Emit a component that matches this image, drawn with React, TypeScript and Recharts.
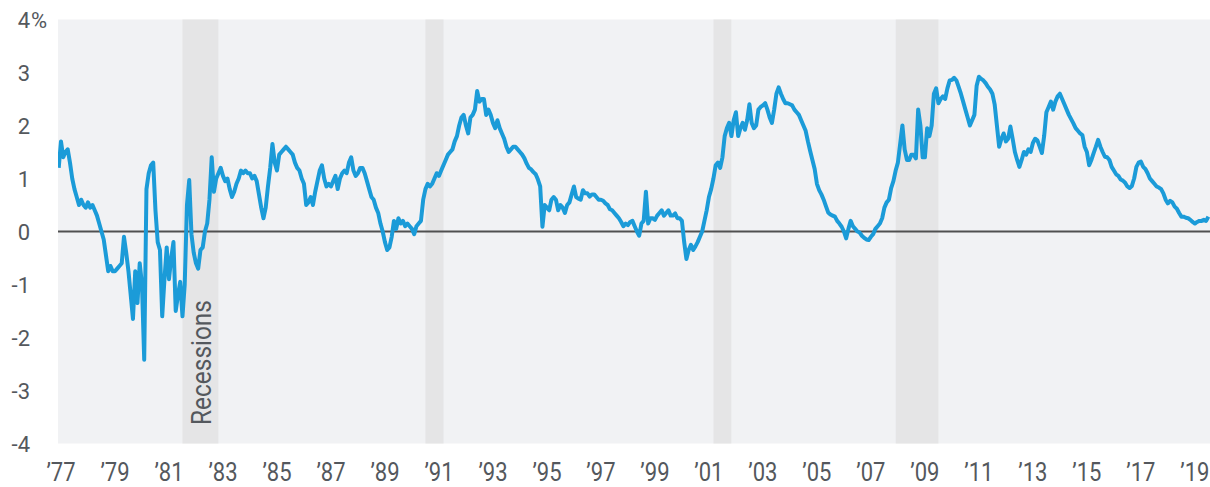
import React from 'react'
import { LineChart, Line, XAxis, YAxis, ReferenceArea, ReferenceLine } from 'recharts'

// monthly yield-curve spread (%)
// Dec 1976 – Dec 1979
const spread1970s = [
  1.2,
  1.7, 1.4, 1.5, 1.55, 1.3, 1.0, 0.8, 0.65, 0.5, 0.6, 0.5, 0.45,
  0.55, 0.45, 0.5, 0.4, 0.3, 0.15, 0.0, -0.15, -0.45, -0.75, -0.65, -0.75,
  -0.75, -0.7, -0.65, -0.6, -0.1, -0.4, -0.75, -1.2, -1.65, -0.75, -1.35, -0.6
]

// Jan 1980 – Dec 1989
const spread1980s = [
  -1.0, -2.42, 0.8, 1.1, 1.25, 1.3, 0.4, -0.2, -0.35, -1.6, -0.9, -0.3,
  -0.9, -0.5, -0.2, -1.5, -1.2, -0.95, -1.6, -1.0, 0.5, 0.97, -0.05, -0.4,
  -0.6, -0.7, -0.35, -0.3, 0.0, 0.15, 0.6, 1.4, 0.75, 1.0, 1.1, 1.2,
  1.05, 0.95, 1.0, 0.8, 0.65, 0.75, 0.9, 1.0, 1.15, 1.1, 1.15, 1.1,
  1.1, 1.0, 1.05, 0.95, 0.7, 0.45, 0.25, 0.45, 0.85, 1.2, 1.65, 1.3,
  1.15, 1.45, 1.5, 1.55, 1.6, 1.55, 1.5, 1.45, 1.3, 1.2, 1.15, 1.0,
  0.9, 0.5, 0.55, 0.65, 0.5, 0.75, 0.95, 1.15, 1.25, 1.0, 0.85, 0.9,
  0.85, 0.95, 1.05, 0.8, 1.0, 1.1, 1.15, 1.1, 1.3, 1.4, 1.15, 1.05,
  1.1, 1.2, 1.2, 1.1, 0.95, 0.8, 0.65, 0.6, 0.45, 0.35, 0.15, 0.0,
  -0.2, -0.35, -0.3, -0.1, 0.2, 0.05, 0.25, 0.15, 0.2, 0.1, 0.15, 0.1
]

// Jan 1990 – Dec 1999
const spread1990s = [
  0.05, -0.05, 0.1, 0.15, 0.2, 0.6, 0.8, 0.9, 0.85, 0.9, 1.0, 1.1,
  1.05, 1.15, 1.25, 1.35, 1.45, 1.5, 1.55, 1.7, 1.8, 2.0, 2.15, 2.2,
  2.0, 1.85, 2.15, 2.2, 2.3, 2.65, 2.45, 2.5, 2.5, 2.2, 2.3, 2.2,
  2.05, 1.95, 2.1, 1.95, 1.85, 1.75, 1.6, 1.5, 1.55, 1.6, 1.6, 1.55,
  1.5, 1.45, 1.38, 1.28, 1.2, 1.17, 1.12, 1.08, 0.98, 0.85, 0.09, 0.5,
  0.45, 0.4, 0.6, 0.65, 0.6, 0.4, 0.5, 0.45, 0.35, 0.5, 0.55, 0.7,
  0.85, 0.65, 0.62, 0.6, 0.78, 0.72, 0.72, 0.66, 0.7, 0.7, 0.65, 0.6,
  0.6, 0.58, 0.53, 0.5, 0.42, 0.4, 0.35, 0.3, 0.25, 0.18, 0.1, 0.15,
  0.12, 0.18, 0.2, 0.1, 0.0, -0.08, 0.15, 0.2, 0.75, 0.15, 0.25, 0.25,
  0.22, 0.3, 0.35, 0.4, 0.3, 0.35, 0.4, 0.3, 0.3, 0.34, 0.25, 0.25
]

// Jan 2000 – Dec 2009
const spread2000s = [
  0.2, -0.2, -0.52, -0.35, -0.25, -0.35, -0.28, -0.2, -0.1, 0.0, 0.2, 0.4,
  0.65, 0.8, 1.0, 1.25, 1.3, 1.2, 1.4, 1.8, 1.95, 2.05, 1.8, 2.1,
  2.25, 1.8, 1.95, 2.05, 1.92, 2.1, 2.4, 2.05, 1.95, 2.0, 2.3, 2.35,
  2.38, 2.42, 2.3, 2.15, 2.05, 2.3, 2.6, 2.72, 2.6, 2.5, 2.42, 2.42,
  2.4, 2.38, 2.3, 2.25, 2.2, 2.1, 2.0, 1.9, 1.7, 1.52, 1.35, 1.18,
  0.9, 0.78, 0.7, 0.6, 0.48, 0.36, 0.32, 0.3, 0.28, 0.2, 0.15, 0.09,
  0.0, -0.13, 0.05, 0.2, 0.1, 0.05, 0.0, -0.02, -0.08, -0.12, -0.15, -0.16,
  -0.1, -0.05, 0.05, 0.1, 0.15, 0.25, 0.45, 0.55, 0.6, 0.82, 0.95, 1.15,
  1.3, 1.65, 2.0, 1.55, 1.35, 1.35, 1.45, 1.45, 1.38, 2.3, 2.0, 1.4,
  1.4, 1.95, 1.8, 2.0, 2.6, 2.7, 2.42, 2.5, 2.55, 2.5, 2.7, 2.85
]

// Jan 2010 – Jul 2019
const spread2010s = [
  2.86, 2.9, 2.85, 2.73, 2.6, 2.45, 2.3, 2.15, 2.0, 2.1, 2.2, 2.75,
  2.92, 2.88, 2.85, 2.8, 2.73, 2.68, 2.6, 2.4, 2.0, 1.6, 1.75, 1.85,
  1.7, 1.75, 1.98, 1.75, 1.5, 1.35, 1.22, 1.35, 1.5, 1.45, 1.55, 1.5,
  1.67, 1.75, 1.72, 1.6, 1.48, 1.8, 2.25, 2.35, 2.45, 2.3, 2.45, 2.55,
  2.6, 2.5, 2.4, 2.3, 2.2, 2.12, 2.04, 1.95, 1.9, 1.85, 1.82, 1.6,
  1.5, 1.25, 1.35, 1.48, 1.6, 1.73, 1.6, 1.5, 1.41, 1.4, 1.35, 1.22,
  1.15, 1.08, 1.05, 0.98, 0.96, 0.92, 0.85, 0.82, 0.86, 1.0, 1.22, 1.3,
  1.32, 1.22, 1.18, 1.1, 1.0, 0.95, 0.9, 0.85, 0.83, 0.8, 0.72, 0.6,
  0.53, 0.58, 0.55, 0.47, 0.43, 0.35, 0.28, 0.28, 0.26, 0.25, 0.22, 0.18,
  0.15, 0.18, 0.2, 0.2, 0.22, 0.2, 0.28
]

const yearTicks = [
  1977, 1979, 1981, 1983, 1985, 1987, 1989, 1991, 1993, 1995, 1997,
  1999, 2001, 2003, 2005, 2007, 2009, 2011, 2013, 2015, 2017, 2019
]
const valueTicks = [-4, -3, -2, -1, 0, 1, 2, 3, 4]

const recessionStarts = [1981.5, 1990.5, 2001.17, 2007.92]
const recessionEnds = [1982.83, 1991.17, 2001.83, 2009.5]

const blocks = [
  { year: 1976, month: 11, values: spread1970s },
  { year: 1980, month: 0, values: spread1980s },
  { year: 1990, month: 0, values: spread1990s },
  { year: 2000, month: 0, values: spread2000s },
  { year: 2010, month: 0, values: spread2010s }
]

const data = blocks.flatMap(b =>
  b.values.map((v, i) => ({ t: b.year + (b.month + i) / 12, spread: v }))
)

const X_MIN = 1976.89
const X_MAX = 2019.56
const TEXT = '#54585d'
const FONT = 'Roboto, "Liberation Sans", sans-serif'

function YearTick({ x, y, payload }: any) {
  const label = '\u2019' + String(payload.value).slice(2)
  return (
    <g transform={`translate(${x},${y + 29}) scale(0.88,1)`}>
      <text x={0} y={0} textAnchor="middle" fill={TEXT} fontSize={25} fontFamily={FONT}>
        {label}
      </text>
    </g>
  )
}

function ValueTick({ x, y, payload }: any) {
  const v = payload.value
  return (
    <g>
      <text x={x - 20} y={y + 8} textAnchor="end" fill={TEXT} fontSize={22} fontFamily={FONT}>
        {v < 0 ? `-${Math.abs(v)}` : v}
      </text>
      {v === 4 && (
        <text x={x - 19} y={y + 8} textAnchor="start" fill={TEXT} fontSize={22} fontFamily={FONT}>
          %
        </text>
      )}
    </g>
  )
}

function RecessionLabel({ viewBox }: any) {
  const bx = viewBox.x + viewBox.width / 2 + 11
  const by = 425
  return (
    <text
      x={bx}
      y={by}
      transform={`rotate(-90 ${bx} ${by})`}
      textAnchor="start"
      fill={TEXT}
      fontSize={27}
      fontFamily={FONT}
      textLength={125}
      lengthAdjust="spacingAndGlyphs"
    >
      Recessions
    </text>
  )
}

export default function App() {
  return (
    <div style={{ width: 1210, height: 487, background: '#fff' }}>
      <style>{'body{margin:0}'}</style>
      <LineChart
        width={1210}
        height={487}
        data={data}
        margin={{ top: 19.5, right: 0, bottom: 0, left: 0 }}
      >
        <XAxis
          dataKey="t"
          type="number"
          domain={[X_MIN, X_MAX]}
          ticks={yearTicks}
          allowDataOverflow
          axisLine={false}
          tickLine={false}
          height={43.5}
          interval={0}
          tick={<YearTick />}
        />
        <YAxis
          type="number"
          domain={[-4, 4]}
          ticks={valueTicks}
          axisLine={false}
          tickLine={false}
          width={58}
          interval={0}
          tick={<ValueTick />}
        />
        <ReferenceArea
          x1={X_MIN}
          x2={X_MAX}
          y1={-4}
          y2={4}
          fill="#f1f2f4"
          fillOpacity={1}
          stroke="none"
        />
        {recessionStarts.map((s, i) => (
          <ReferenceArea
            key={s}
            x1={s}
            x2={recessionEnds[i]}
            y1={-4}
            y2={4}
            fill="#e5e5e6"
            fillOpacity={1}
            stroke="none"
            label={i === 0 ? <RecessionLabel /> : undefined}
          />
        ))}
        <ReferenceLine y={0} stroke="#505050" strokeWidth={2} />
        <Line
          type="linear"
          dataKey="spread"
          stroke="#1b9bd8"
          strokeWidth={4}
          strokeLinejoin="round"
          dot={false}
          isAnimationActive={false}
        />
      </LineChart>
    </div>
  )
}
